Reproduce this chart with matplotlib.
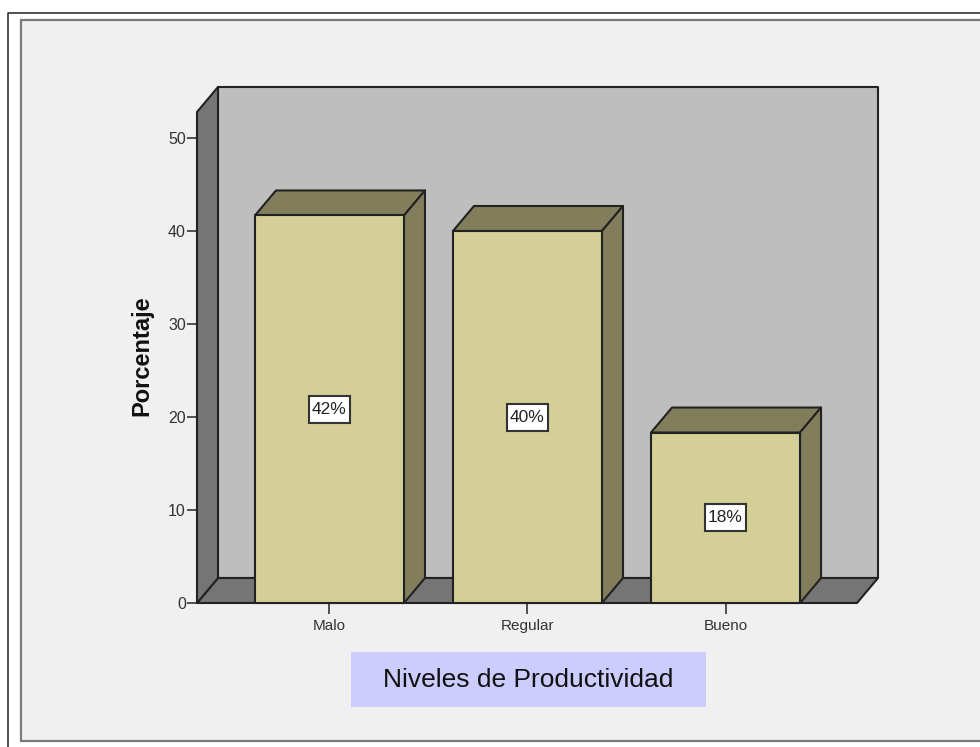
#!/usr/bin/env python3
import matplotlib
matplotlib.use('Agg')
import matplotlib.pyplot as plt
from matplotlib.lines import Line2D
from matplotlib.patches import Polygon, Rectangle

plt.rcParams['font.family'] = ['Liberation Sans', 'DejaVu Sans']

categories = ['Malo', 'Regular', 'Bueno']
percentages = [41.67, 40.0, 18.33]
yticks = [0, 10, 20, 30, 40, 50]
xlabel = 'Niveles de Productividad'
ylabel = 'Porcentaje'

W, H = 980, 747
EDGE = '#222222'
WALL = '#bebebe'
SIDE = '#757575'
BAR_FRONT = '#d3cf97'
BAR_DARK = '#827e5c'

# box depth, bar width and value tag size, in data units
DX = 21 / 198
DY = 25 / 9.3
BAR_W = 149 / 198
TAG_W = 41 / 198
TAG_H = 27 / 9.3


def figx(x):
    return x / W


def figy(y):
    return 1 - y / H


def box(ax, pts, color, z):
    ax.add_patch(Polygon(pts, closed=True, facecolor=color, edgecolor=EDGE,
                         linewidth=1.5, joinstyle='round', zorder=z, clip_on=False))


fig = plt.figure(figsize=(W / 100, H / 100), dpi=100, facecolor='white')

# grey panel and the black frame around it
fig.add_artist(Rectangle((figx(21), figy(741)), 1.0, figy(20) - figy(741),
                         transform=fig.transFigure, facecolor='#f0f0f0',
                         edgecolor='#7a7a7a', linewidth=1.6, zorder=-2))
fig.add_artist(Line2D([figx(8), figx(8), 1.0], [0.0, figy(13), figy(13)],
                      transform=fig.transFigure, color='#222222', linewidth=1.1, zorder=-2))

ax = fig.add_axes([figx(197), figy(603), figx(878) - figx(197), figy(87) - figy(603)])
ax.set_xlim(-0.669, 2.770)
ax.set_ylim(0, 516 / 9.3)
ax.patch.set_visible(False)
for spine in ax.spines.values():
    spine.set_visible(False)

x0, x1 = ax.get_xlim()
x1 -= DX
ytop = ax.get_ylim()[1]

# back wall, floor and left wall
box(ax, [(x0 + DX, DY), (x1 + DX, DY), (x1 + DX, ytop), (x0 + DX, ytop)], WALL, 1)
box(ax, [(x0, 0), (x1, 0), (x1 + DX, DY), (x0 + DX, DY)], SIDE, 2)
box(ax, [(x0, 0), (x0 + DX, DY), (x0 + DX, ytop), (x0, ytop - DY)], SIDE, 2)

for i, (cat, v) in enumerate(zip(categories, percentages)):
    left, right = i - BAR_W / 2, i + BAR_W / 2
    box(ax, [(left, v), (right, v), (right + DX, v + DY), (left + DX, v + DY)], BAR_DARK, 3)
    box(ax, [(right, 0), (right + DX, DY), (right + DX, v + DY), (right, v)], BAR_DARK, 3)
    box(ax, [(left, 0), (right, 0), (right, v), (left, v)], BAR_FRONT, 4)
    # white value tag at mid height
    ax.add_patch(Rectangle((i - TAG_W / 2, v / 2 - TAG_H / 2), TAG_W, TAG_H, facecolor='white',
                           edgecolor='#333333', linewidth=1.5, zorder=5))
    ax.text(i, v / 2, f'{v:.0f}%', ha='center', va='center', fontsize=12.5, color='#222222',
            zorder=6)

ax.set_xticks(range(len(categories)), categories)
ax.set_yticks(yticks)
ax.tick_params(axis='x', length=8, width=1.3, color='#444444', labelsize=11,
               labelcolor='#333333', pad=3.5)
ax.tick_params(axis='y', length=7, width=1.3, color='#444444', labelsize=11.5,
               labelcolor='#333333', pad=1)

fig.text(figx(142), figy(356), ylabel, rotation=90, ha='center', va='center',
         fontsize=17, fontweight='bold', color='#111111')

# category axis title sits in a tinted box
fig.add_artist(Rectangle((figx(351), figy(707)), figx(706) - figx(351), figy(652) - figy(707),
                         transform=fig.transFigure, facecolor='#ccccff', edgecolor='none'))
fig.text(figx(528), figy(680), xlabel, ha='center', va='center', fontsize=19, color='#111111')

plt.savefig('out.png', dpi=100)
